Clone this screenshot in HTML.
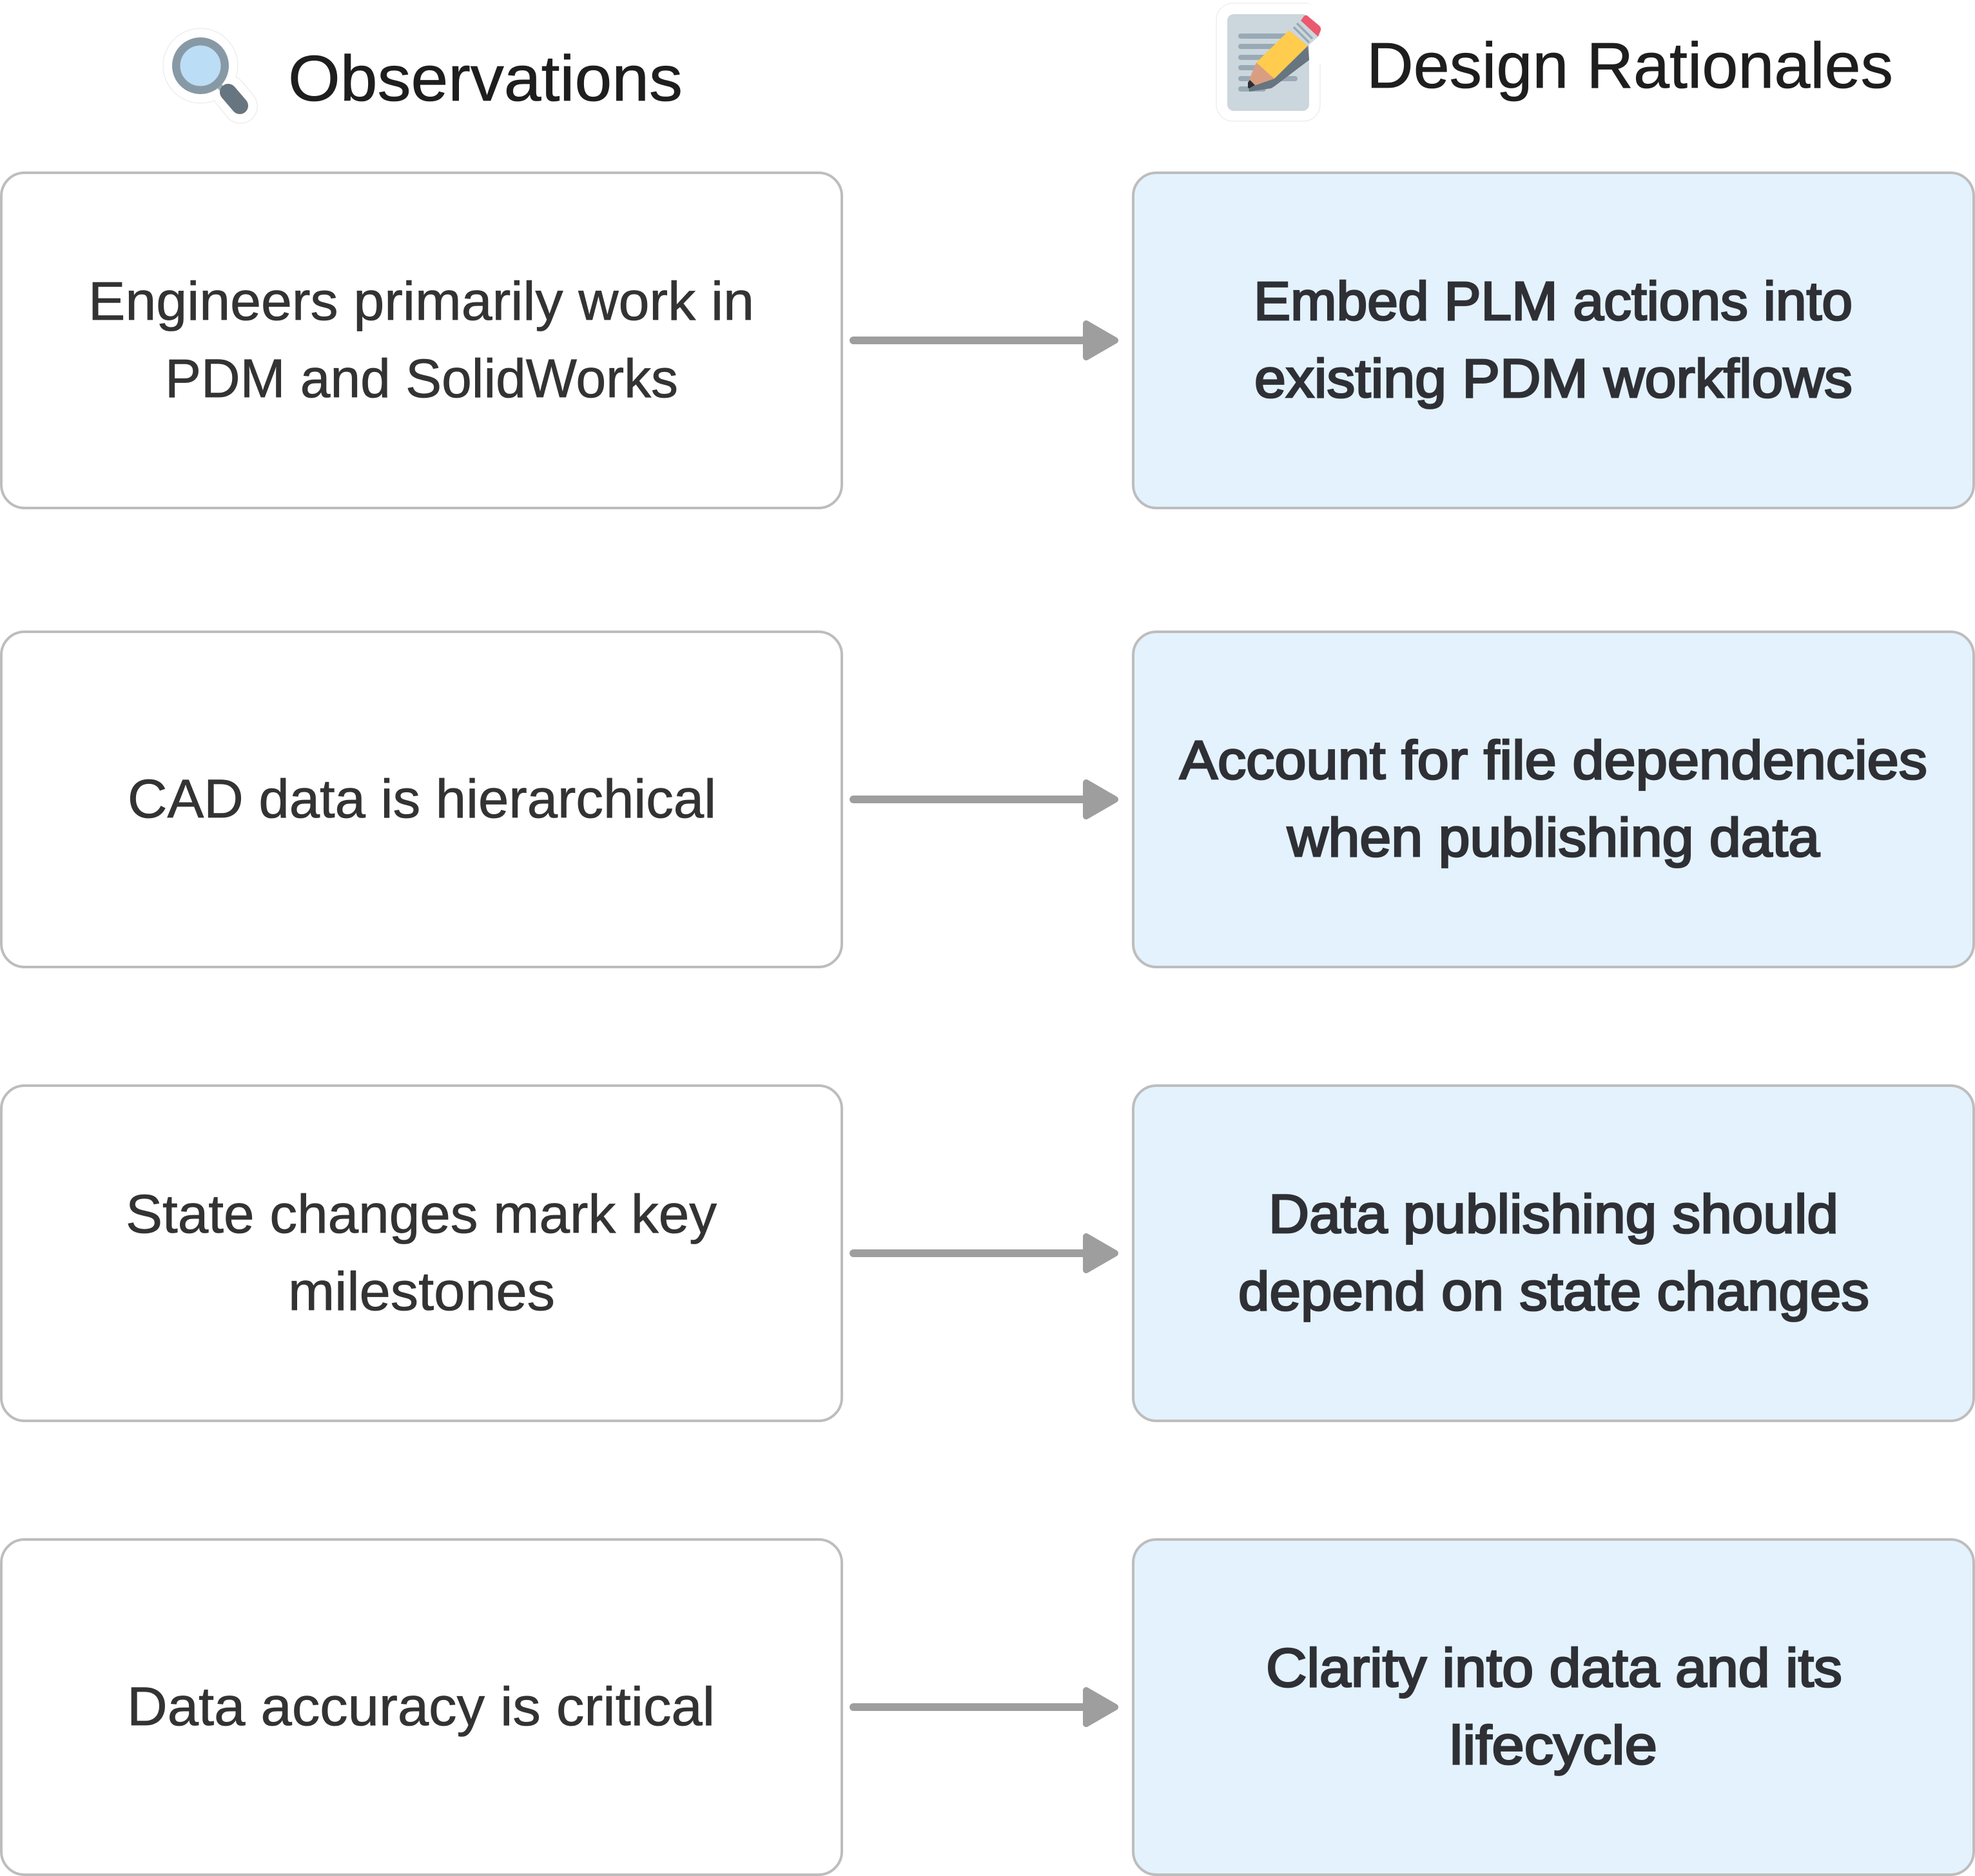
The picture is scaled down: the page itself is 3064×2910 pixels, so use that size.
<!DOCTYPE html>
<html lang="en">
<head>
<meta charset="utf-8">
<title>Observations and Design Rationales</title>
<style>
html,body{margin:0;padding:0;background:#fff;width:3064px;height:2910px;overflow:hidden}
svg{display:block}
text{font-family:"Liberation Sans",sans-serif}
.h{font-size:100px;fill:#1e1e1e;stroke:#1e1e1e;stroke-width:.8}
.l{font-size:84px;fill:#333333;stroke:#333333;stroke-width:.8}
.r{font-size:84px;fill:#2e3035;stroke:#2e3035;stroke-width:2.8}
.bl{fill:#fff;stroke:#bdbdbd;stroke-width:4}
.br{fill:#e3f2fd;stroke:#bdbdbd;stroke-width:4}
.sl{stroke:#9e9e9e;stroke-width:12;stroke-linecap:round;fill:none}
.hd{fill:#9e9e9e;stroke:#9e9e9e;stroke-width:10;stroke-linejoin:round}
</style>
</head>
<body>
<svg width="3064" height="2910" viewBox="0 0 3064 2910" xmlns="http://www.w3.org/2000/svg">
<rect width="3064" height="2910" fill="#fff"/>

<!-- magnifier icon -->
<g fill="none" stroke-linecap="round" stroke-linejoin="round">
  <circle cx="311" cy="102" r="58" fill="#fff" stroke="#eeeeee" stroke-width="1.5"/>
  <line x1="356" y1="144" x2="373" y2="165" stroke="#eeeeee" stroke-width="54"/>
  <line x1="356" y1="144" x2="373" y2="165" stroke="#ffffff" stroke-width="51"/>
  <circle cx="311" cy="102" r="57" fill="#fff"/>
</g>
<circle cx="311" cy="102" r="37.75" fill="#bbddf5" stroke="#8899a6" stroke-width="12.5"/>
<line x1="341" y1="134" x2="350" y2="144" stroke="#99aab5" stroke-width="9"/>
<line x1="354" y1="143" x2="372" y2="164" stroke="#66757f" stroke-width="26" stroke-linecap="round"/>

<!-- pencil and paper icon -->
<g stroke-linejoin="round" fill="#fff" stroke-linecap="round">
  <rect x="1887" y="5" width="161" height="183" rx="26" stroke="#eeeeee" stroke-width="1.5"/>
  <path d="M2027 24L2049 43L2045 57L2031 93L2020 110L1990 60Z" stroke="#fff" stroke-width="36"/>
</g>
<rect x="1904" y="22" width="127" height="150" rx="10" fill="#ccd6dd"/>
<g stroke="#99aab5" stroke-width="8" stroke-linecap="round">
  <line x1="1925" y1="56" x2="2000" y2="56"/>
  <line x1="1925" y1="72" x2="1985" y2="72"/>
  <line x1="1925" y1="89" x2="1975" y2="89"/>
  <line x1="1925" y1="105" x2="1960" y2="105"/>
  <line x1="1925" y1="122" x2="2009" y2="122"/>
  <line x1="1925" y1="138" x2="1960" y2="138"/>
</g>
<path d="M2029 71L2031 93L1977 132Q1975 136 1968 137L1938 142L1936 128L1977 122Z" fill="#66757f"/>
<path d="M2029 71L2031 93L1977 134L1972 137L1938 142L1977 122Z" fill="#66757f"/>
<path d="M2000 47L2029 71L1977 122L1949 97Z" fill="#ffcc4d"/>
<path d="M1949 97L1977 122L1937 136L1936 128Z" fill="#d99e82"/>
<path d="M1939 124L1936 128L1936 136L1938 137L1947 132Z" fill="#292f33"/>
<path d="M2018 30L2045 57L2029 71L2000 47Z" fill="#ccd6dd"/>
<g stroke="#99aab5" stroke-width="3.5"><line x1="2012" y1="36" x2="2036" y2="60"/><line x1="2007" y1="42" x2="2031" y2="66"/></g>
<path d="M2023 25Q2027 22 2030 26L2047 40Q2050 44 2049 47L2045 57L2018 32Z" fill="#ea596e"/>

<!-- headers -->
<text class="h" x="447" y="156" textLength="612" lengthAdjust="spacingAndGlyphs">Observations</text>
<text class="h" x="2120" y="136" textLength="817" lengthAdjust="spacingAndGlyphs">Design Rationales</text>

<!-- row 1 -->
<rect class="bl" x="2" y="268" width="1304" height="520" rx="36"/>
<rect class="br" x="1758" y="268" width="1304" height="520" rx="36"/>
<line class="sl" x1="1324" y1="528" x2="1690" y2="528"/>
<path class="hd" d="M1685 502L1730 528L1685 554Z"/>
<text class="l" x="137" y="496" textLength="1033" lengthAdjust="spacingAndGlyphs">Engineers primarily work in</text>
<text class="l" x="256" y="616" textLength="796" lengthAdjust="spacingAndGlyphs">PDM and SolidWorks</text>
<text class="r" x="1945" y="496" textLength="929" lengthAdjust="spacingAndGlyphs">Embed PLM actions into</text>
<text class="r" x="1946" y="616" textLength="928" lengthAdjust="spacingAndGlyphs">existing PDM workflows</text>

<!-- row 2 -->
<rect class="bl" x="2" y="980" width="1304" height="520" rx="36"/>
<rect class="br" x="1758" y="980" width="1304" height="520" rx="36"/>
<line class="sl" x1="1324" y1="1240" x2="1690" y2="1240"/>
<path class="hd" d="M1685 1214L1730 1240L1685 1266Z"/>
<text class="l" x="198" y="1268" textLength="913" lengthAdjust="spacingAndGlyphs">CAD data is hierarchical</text>
<text class="r" x="1830" y="1208" textLength="1160" lengthAdjust="spacingAndGlyphs">Account for file dependencies</text>
<text class="r" x="1997" y="1328" textLength="826" lengthAdjust="spacingAndGlyphs">when publishing data</text>

<!-- row 3 -->
<rect class="bl" x="2" y="1684" width="1304" height="520" rx="36"/>
<rect class="br" x="1758" y="1684" width="1304" height="520" rx="36"/>
<line class="sl" x1="1324" y1="1944" x2="1690" y2="1944"/>
<path class="hd" d="M1685 1918L1730 1944L1685 1970Z"/>
<text class="l" x="195" y="1912" textLength="917" lengthAdjust="spacingAndGlyphs">State changes mark key</text>
<text class="l" x="447" y="2032" textLength="414" lengthAdjust="spacingAndGlyphs">milestones</text>
<text class="r" x="1968" y="1912" textLength="884" lengthAdjust="spacingAndGlyphs">Data publishing should</text>
<text class="r" x="1921" y="2032" textLength="979" lengthAdjust="spacingAndGlyphs">depend on state changes</text>

<!-- row 4 -->
<rect class="bl" x="2" y="2388" width="1304" height="520" rx="36"/>
<rect class="br" x="1758" y="2388" width="1304" height="520" rx="36"/>
<line class="sl" x1="1324" y1="2648" x2="1690" y2="2648"/>
<path class="hd" d="M1685 2622L1730 2648L1685 2674Z"/>
<text class="l" x="197" y="2676" textLength="912" lengthAdjust="spacingAndGlyphs">Data accuracy is critical</text>
<text class="r" x="1964" y="2616" textLength="894" lengthAdjust="spacingAndGlyphs">Clarity into data and its</text>
<text class="r" x="2249" y="2736" textLength="322" lengthAdjust="spacingAndGlyphs">lifecycle</text>
</svg>
</body>
</html>
